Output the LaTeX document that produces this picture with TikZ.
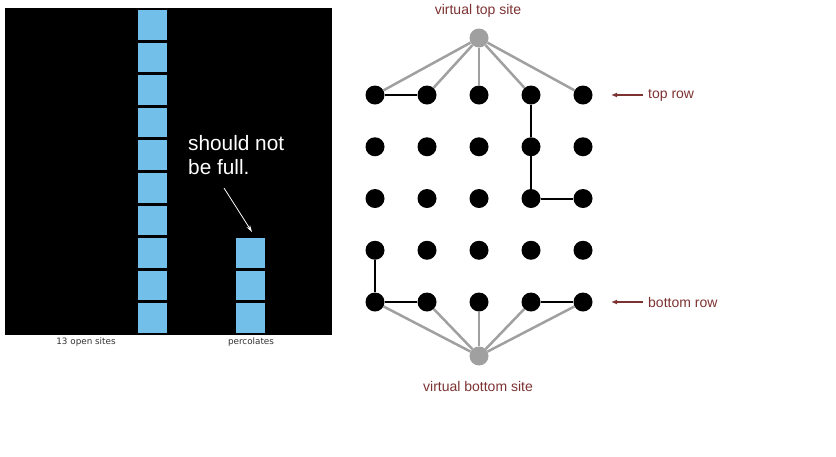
\documentclass[tikz,border=0pt]{standalone}
\usepackage{fontspec}
\setmainfont{Liberation Sans}
\newfontfamily\panelfont{DejaVu Sans}
\usetikzlibrary{arrows.meta,positioning,calc}
\definecolor{cellblue}{RGB}{114,191,234}
\definecolor{linkgray}{RGB}{160,160,160}
\definecolor{notered}{RGB}{125,50,50}

\begin{document}
\begin{tikzpicture}[x=1pt,y=-1pt,>=Latex,
  site/.style={circle,fill=black,minimum size=19pt,inner sep=0pt},
  vsite/.style={site,fill=linkgray},
  vlink/.style={linkgray,line width=2.5pt},
  olink/.style={black,line width=2pt},
  lab/.style={text=notered,inner sep=1pt,font=\fontsize{14}{16}\selectfont},
  panellab/.style={text=black!80,font=\panelfont\fontsize{8.8}{10}\selectfont},
  rowarrow/.style={notered,line width=1.2pt,-{Latex[length=6pt,width=5pt]}}]
\useasboundingbox (0,0) rectangle (836,456);
% left: the grid that percolates
\fill[black] (5,8) rectangle (332,335);
\foreach \i in {0,...,9}{\fill[cellblue] (138,10+32.6*\i) rectangle (167,39.5+32.6*\i);}
\foreach \i in {7,8,9}{\fill[cellblue] (236,10+32.6*\i) rectangle (265,39.5+32.6*\i);}
\node[text=white,font=\fontsize{20.8}{24}\selectfont,align=left,anchor=north west,inner sep=0pt] (note) at (188,135) {should not\\be full.};
\coordinate (tail) at (224,188);\coordinate (tip) at (252,232);
\draw[white,line width=0.8pt,-{Stealth[length=7pt,width=4pt]}] (tail)--(tip);
\node[panellab] (opensites) at (86,342) {13 open sites};
\node[panellab] (percolates) at (251,342) {percolates};
% right: sites with virtual top and bottom
\foreach \r in {0,...,4}\foreach \c in {0,...,4}{\node[site] (s-\r-\c) at (375+52*\c,95+51.75*\r) {};}
\node[vsite] (vtop) at (479,38) {};\node[vsite] (vbot) at (479,356) {};
\foreach \c in {0,...,4}{\draw[vlink] (vtop)--(s-0-\c);\draw[vlink] (vbot)--(s-4-\c);}
\draw[olink] (s-0-0)--(s-0-1);
\draw[olink] (s-0-3)--(s-1-3)--(s-2-3)--(s-2-4);
\draw[olink] (s-3-0)--(s-4-0)--(s-4-1);
\draw[olink] (s-4-3)--(s-4-4);
\node[lab] (toplab) at (478,11) {virtual top site};
\node[lab] (botlab) at (478,386) {virtual bottom site};
\node[lab,anchor=west] (toprow) at (647,95) {top row};
\node[lab,anchor=west] (botrow) at (647,302) {bottom row};
\coordinate (toptip) at (611,95);\coordinate (bottip) at (611,302);
\draw[rowarrow] ([xshift=-4pt]toprow.west)--(toptip);
\draw[rowarrow] ([xshift=-4pt]botrow.west)--(bottip);
\end{tikzpicture}
\end{document}
